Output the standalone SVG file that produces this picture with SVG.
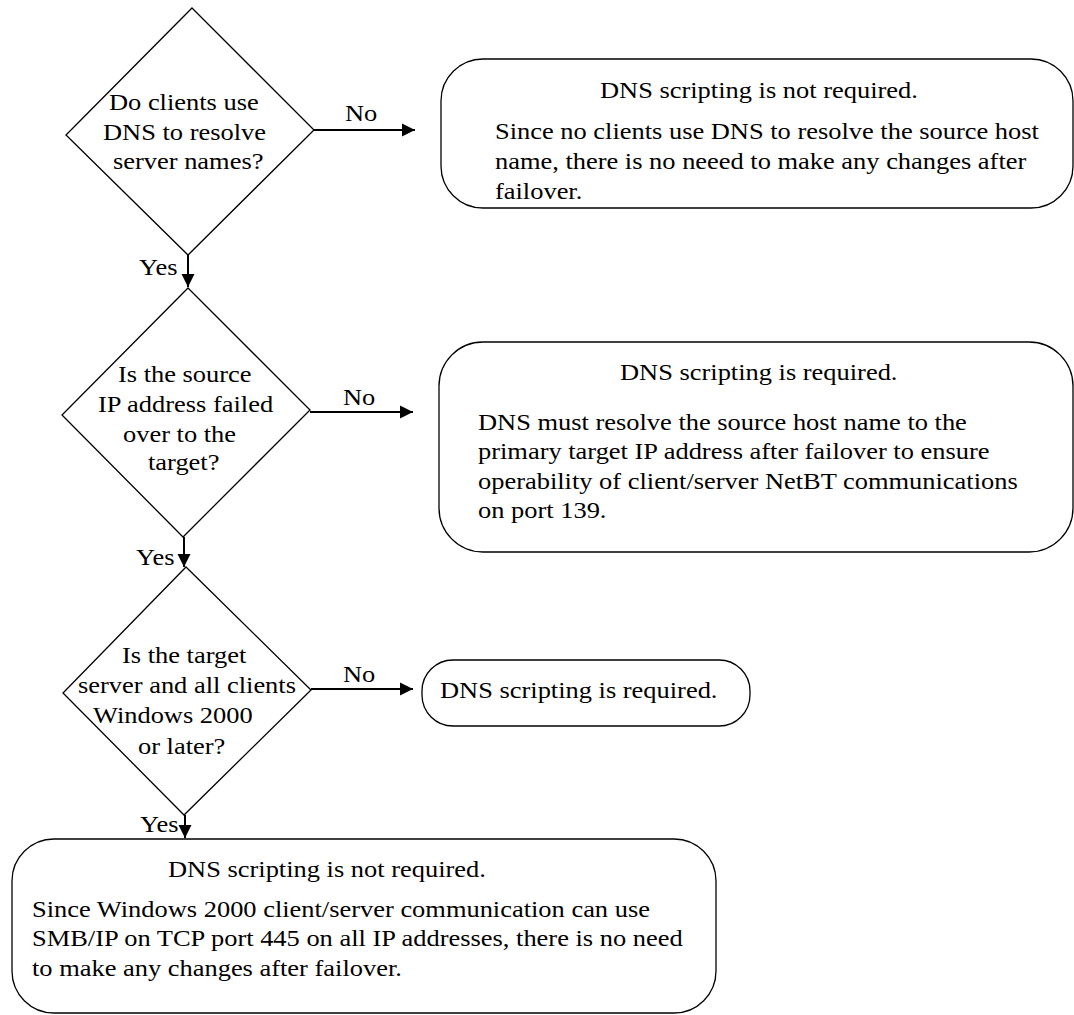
<svg xmlns="http://www.w3.org/2000/svg" width="1074" height="1015" viewBox="0 0 1074 1015">
<style>
.shape{fill:#fff;stroke:#000;stroke-width:1.3}
.conn{fill:none;stroke:#000;stroke-width:2}
text{font-family:"Liberation Serif","Times New Roman",serif;font-size:23px;fill:#000}
</style>
<defs>
<marker id="arr" markerUnits="userSpaceOnUse" markerWidth="14" markerHeight="14" refX="13" refY="7" orient="auto">
<path d="M0,0.5 L13,7 L0,13.5 z" fill="#000"/>
</marker>
</defs>
<rect width="1074" height="1015" fill="#fff"/>

<g id="d1">
<polygon class="shape" points="192,8 314,130 188,255 66,135"/>
<g transform="scale(1.15 1)">
<text x="94.78" y="110">Do clients use</text>
<text x="89.57" y="140">DNS to resolve</text>
<text x="98.26" y="169">server names?</text>
</g>
</g>

<g id="b1">
<rect class="shape" x="441" y="59" width="632" height="149" rx="42" ry="42"/>
<g transform="scale(1.15 1)">
<text x="521.74" y="98">DNS scripting is not required.</text>
<text x="430.43" y="139">Since no clients use DNS to resolve the source host</text>
<text x="430.43" y="169">name, there is no neeed to make any changes after</text>
<text x="430.43" y="199">failover.</text>
</g>
</g>

<g id="d2">
<polygon class="shape" points="188,288 310,410 183,537 62,415"/>
<g transform="scale(1.15 1)">
<text x="102.61" y="382">Is the source</text>
<text x="85.22" y="412">IP address failed</text>
<text x="106.96" y="442">over to the</text>
<text x="128.70" y="470">target?</text>
</g>
</g>

<g id="b2">
<rect class="shape" x="439" y="342" width="634" height="210" rx="44" ry="44"/>
<g transform="scale(1.15 1)">
<text x="539.13" y="380">DNS scripting is required.</text>
<text x="415.65" y="430">DNS must resolve the source host name to the</text>
<text x="415.65" y="459">primary target IP address after failover to ensure</text>
<text x="415.65" y="489">operability of client/server NetBT communications</text>
<text x="415.65" y="518">on port 139.</text>
</g>
</g>

<g id="d3">
<polygon class="shape" points="186,567 311,690 184,815 63,693"/>
<g transform="scale(1.15 1)">
<text x="106.09" y="663">Is the target</text>
<text x="67.83" y="693">server and all clients</text>
<text x="80.87" y="723">Windows 2000</text>
<text x="120" y="754">or later?</text>
</g>
</g>

<g id="b3">
<rect class="shape" x="422" y="660" width="328" height="66" rx="31" ry="31"/>
<g transform="scale(1.15 1)">
<text x="382.61" y="698">DNS scripting is required.</text>
</g>
</g>

<g id="b4">
<rect class="shape" x="12" y="839" width="704" height="174" rx="42" ry="42"/>
<g transform="scale(1.15 1)">
<text x="146.09" y="877">DNS scripting is not required.</text>
<text x="27.83" y="917">Since Windows 2000 client/server communication can use</text>
<text x="27.83" y="946">SMB/IP on TCP port 445 on all IP addresses, there is no need</text>
<text x="27.83" y="976">to make any changes after failover.</text>
</g>
</g>

<g id="connectors">
<line class="conn" x1="314" y1="130" x2="415" y2="130" marker-end="url(#arr)"/>
<line class="conn" x1="188" y1="255" x2="188" y2="287" marker-end="url(#arr)"/>
<line class="conn" x1="310" y1="412" x2="413" y2="412" marker-end="url(#arr)"/>
<line class="conn" x1="184" y1="537" x2="184" y2="567" marker-end="url(#arr)"/>
<line class="conn" x1="311" y1="689" x2="413" y2="689" marker-end="url(#arr)"/>
<line class="conn" x1="185" y1="815" x2="185" y2="838" marker-end="url(#arr)"/>
<g transform="scale(1.15 1)">
<text x="300" y="121">No</text>
<text x="120.87" y="275">Yes</text>
<text x="298.26" y="405">No</text>
<text x="118.26" y="565">Yes</text>
<text x="298.26" y="682">No</text>
<text x="121.74" y="832">Yes</text>
</g>
</g>
</svg>
